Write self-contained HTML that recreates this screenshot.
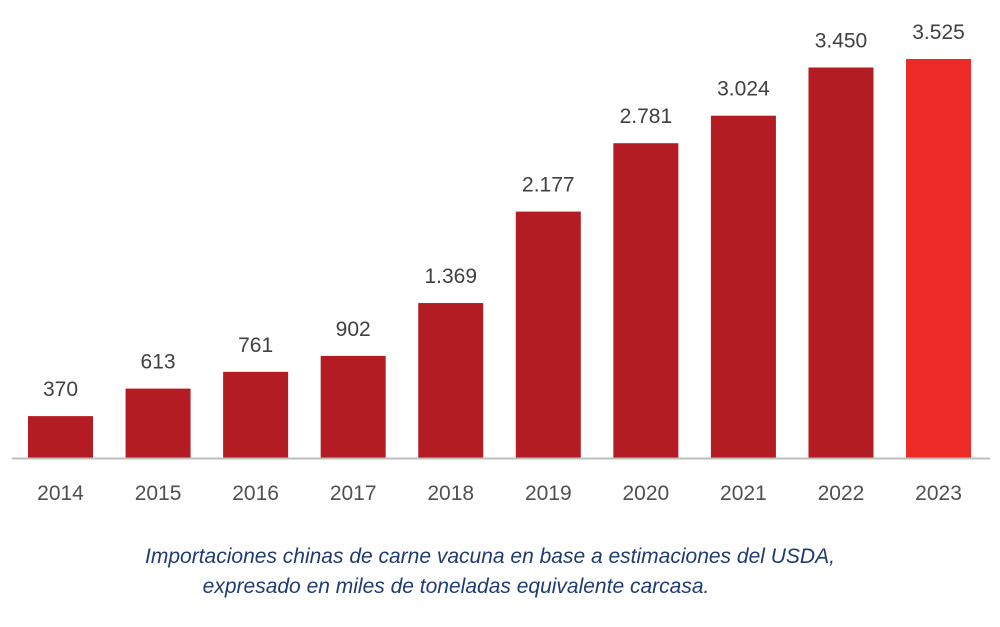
<!DOCTYPE html>
<html><head><meta charset="utf-8"><style>
body{margin:0;background:#fff;width:1000px;height:622px;overflow:hidden}
svg text{font-family:"Liberation Sans",sans-serif}
</style></head><body>
<svg width="1000" height="622">
<g id="bars"></g>
<line x1="12" y1="458.5" x2="990" y2="458.5" stroke="#bdbdbd" stroke-width="2"/>
<text x="490" y="563" text-anchor="middle" font-size="21" font-style="italic" fill="#1f3b73">Importaciones chinas de carne vacuna en base a estimaciones del USDA,</text>
<text x="456" y="593" text-anchor="middle" font-size="21" font-style="italic" fill="#1f3b73">expresado en miles de toneladas equivalente carcasa.</text>
</svg>
<script>
const categories=["2014","2015","2016","2017","2018","2019","2020","2021","2022","2023"];
const values=[370,613,761,902,1369,2177,2781,3024,3450,3525];
const valueLabels=["370","613","761","902","1.369","2.177","2.781","3.024","3.450","3.525"];
const base=458,top0=59,maxV=3525,x0=60.5,step=97.56,bw=65;
const y=v=>base-(v/maxV)*(base-top0);
const xc=i=>x0+i*step;
const g=document.getElementById('bars');
const NS="http://www.w3.org/2000/svg";
categories.forEach((c,i)=>{
 const r=document.createElementNS(NS,'rect');
 r.setAttribute('x',xc(i)-bw/2);r.setAttribute('y',y(values[i]));
 r.setAttribute('width',bw);r.setAttribute('height',base-y(values[i]));
 r.setAttribute('fill',i===categories.length-1?'#ec2b26':'#b31c23');
 
 
 g.appendChild(r);
 const t=document.createElementNS(NS,'text');
 t.setAttribute('x',xc(i));t.setAttribute('y',y(values[i])-20);
 t.setAttribute('text-anchor','middle');t.setAttribute('font-size','21');t.setAttribute('fill','#404040');
 t.textContent=valueLabels[i];
 
 
 g.appendChild(t);
 const l=document.createElementNS(NS,'text');
 l.setAttribute('x',xc(i));l.setAttribute('y',500);
 l.setAttribute('text-anchor','middle');l.setAttribute('font-size','21');l.setAttribute('fill','#505050');
 l.textContent=c;
 
 
 g.appendChild(l);
});
</script>
</body></html>
